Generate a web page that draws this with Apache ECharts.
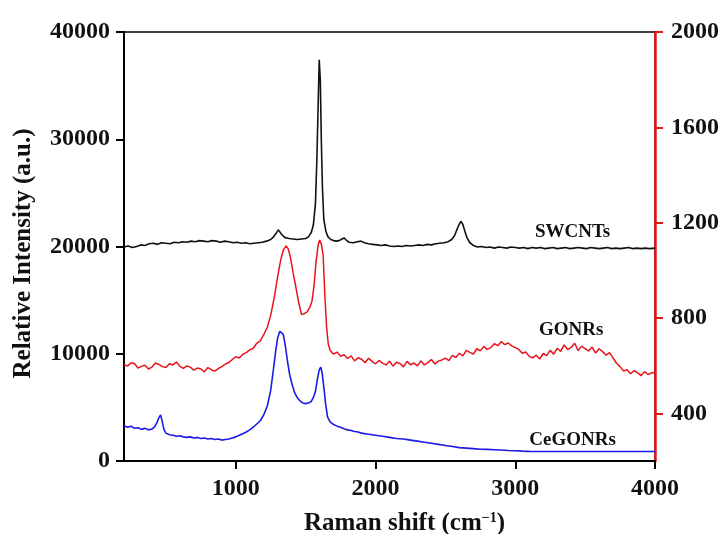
<!DOCTYPE html>
<html>
<head>
<meta charset="utf-8">
<script src="https://cdn.jsdelivr.net/npm/echarts@6/dist/echarts.min.js"></script>
<style>
  html, body { margin: 0; padding: 0; background: #fff; }
  #chart { width: 721px; height: 534px; }
</style>
</head>
<body>
<div id="chart"></div>
<script>
    // SWCNTs (left axis)
    var swX = [200,230,260,290,320,350,380,410,440,470,500,530,560,590,620,650,680,710,740,770,800,830,860,890,920,950,980,1010,1040,1070,1100,1130,1160,1190,1220,1250,1270,1290,1305,1315,1330,1350,1380,1410,1440,1470,1500,1520,1540,1555,1570,1580,1590,1597,1605,1612,1620,1630,1645,1660,1680,1700,1720,1740,1760,1775,1790,1810,1840,1870,1895,1920,1950,1980,2010,2040,2070,2100,2130,2160,2190,2220,2250,2280,2310,2340,2370,2400,2430,2460,2490,2520,2545,2565,2585,2600,2612,2625,2640,2655,2675,2700,2730,2760,2790,2820,2850,2880,2910,2940,2970,3000,3030,3060,3090,3120,3150,3180,3210,3240,3270,3300,3330,3360,3390,3420,3450,3480,3510,3540,3570,3600,3630,3660,3690,3720,3750,3780,3810,3840,3870,3900,3930,3960,4000];
    var swY = [19950,20050,19900,20000,20150,20100,20250,20300,20200,20350,20300,20250,20400,20350,20450,20400,20500,20450,20550,20500,20450,20550,20500,20400,20500,20450,20350,20400,20300,20350,20250,20300,20350,20400,20500,20650,20900,21250,21550,21500,21100,20850,20750,20700,20650,20700,20750,20900,21300,22000,24000,28000,33500,37400,35500,30000,25500,22500,21400,20900,20650,20550,20500,20550,20700,20800,20600,20400,20350,20450,20500,20350,20250,20200,20150,20100,20150,20050,20000,20050,20000,20100,20050,20100,20150,20100,20200,20150,20250,20300,20350,20450,20650,21000,21650,22100,22350,22050,21400,20800,20350,20100,19950,20000,19900,19950,19850,19950,19900,19850,19950,19900,19850,19900,19800,19900,19850,19900,19800,19850,19900,19800,19850,19900,19800,19850,19900,19850,19800,19900,19850,19800,19850,19900,19800,19850,19800,19850,19900,19800,19850,19800,19850,19800,19850];

    // GONRs (right axis)
    var goX = [200,225,250,275,300,325,350,375,400,425,450,475,500,525,550,575,600,625,650,675,700,725,750,775,800,825,850,875,900,925,950,975,1000,1025,1050,1075,1100,1125,1150,1175,1200,1225,1250,1275,1300,1320,1340,1360,1375,1390,1410,1430,1450,1470,1490,1510,1530,1545,1560,1575,1590,1600,1612,1625,1637,1650,1662,1675,1700,1725,1750,1775,1800,1825,1850,1875,1900,1925,1950,1975,2000,2025,2050,2075,2100,2125,2150,2175,2200,2225,2250,2275,2300,2325,2350,2375,2400,2425,2450,2475,2500,2525,2550,2575,2600,2625,2650,2675,2700,2725,2750,2775,2800,2825,2850,2875,2900,2925,2950,2975,3000,3025,3050,3075,3100,3125,3150,3175,3200,3225,3250,3275,3300,3325,3350,3375,3400,3425,3450,3475,3500,3525,3550,3575,3600,3625,3650,3675,3700,3725,3750,3775,3800,3825,3850,3875,3900,3925,3950,3975,4000];
    var goY = [605,598,612,609,590,597,602,586,594,611,605,596,592,608,603,615,597,589,599,594,581,590,586,574,592,583,577,588,596,607,613,626,638,
               632,648,655,666,673,694,704,730,760,812,885,975,
               1040,1085,1102,1090,1058,990,930,865,815,818,826,845,870,935,1040,1108,1127,1110,1065,900,760,690,665,
               648,657,639,646,630,641,620,633,627,612,631,618,608,
               622,611,603,619,598,614,609,595,618,604,611,599,620,603,613,626,607,619,624,632,
               621,643,634,652,641,664,656,649,671,662,681,668,676,692,684,701,688,695,683,676,
               668,652,657,639,633,644,628,651,642,665,648,673,660,687,668,676,694,663,682,671,
               662,678,653,671,659,644,655,632,610,596,578,583,566,579,571,558,575,563,569,572];

    // CeGONRs (left axis)
    var ceX = [200,225,250,275,300,325,350,375,400,420,435,450,462,475,487,500,525,550,575,600,625,650,675,700,725,750,775,800,825,850,875,900,925,950,975,1000,1025,1050,1075,1100,1125,1150,1175,1200,1225,1250,1270,1285,1300,1315,1328,1340,1355,1370,1385,1400,1420,1440,1460,1480,1500,1520,1540,1555,1570,1585,1597,1608,1618,1630,1643,1657,1675,1700,1725,1750,1775,1800,1825,1850,1875,1900,1950,2000,2050,2100,2150,2200,2250,2300,2350,2400,2450,2500,2550,2600,2650,2700,2750,2800,2850,2900,2950,3000,3050,3100,3200,4000];
    var ceY = [3300,3150,3250,3050,3100,2950,3050,2900,2980,3200,3550,4050,4300,3600,2900,2600,2450,2400,2300,2350,2250,2200,2250,2150,2200,2100,2150,2050,2100,2000,2050,1950,2000,2050,2150,2250,2400,2550,2700,2900,3150,3450,3750,4300,5100,6600,8600,10200,11500,12100,12200,11800,10700,9300,8100,7300,6400,5900,5600,5400,5350,5400,5550,5900,6500,7700,8500,8750,8200,6900,5300,4100,3650,3400,3250,3150,3000,2900,2850,2750,2700,2600,2500,2400,2300,2200,2100,2050,1950,1850,1750,1650,1550,1450,1350,1250,1200,1150,1100,1080,1050,1020,980,950,920,900,880,880];

    var labelFont = 'Liberation Serif, Times New Roman, serif';

    function pairs(xs, ys) {
        var out = [];
        for (var i = 0; i < xs.length; i++) out.push([xs[i], ys[i]]);
        return out;
    }

    function plain(v) { return String(v); }

    function tag(text, coord) {
        return {
            coord: coord,
            symbol: 'circle',
            symbolSize: 1,
            itemStyle: { color: 'rgba(0,0,0,0)' },
            label: {
                show: true, position: 'inside', formatter: text,
                color: '#111', fontFamily: labelFont, fontWeight: 'bold', fontSize: 19
            }
        };
    }

    var myChart = echarts.init(document.getElementById('chart'));

    var option = {
        animation: false,
        backgroundColor: '#fff',
        grid: {
            left: 124, right: 66, top: 32, bottom: 73,
            outerBoundsMode: 'none',
            show: true, borderColor: '#000', borderWidth: 1.5
        },
        xAxis: {
            type: 'value',
            min: 200, max: 4000,
            axisLabel: {
                customValues: [1000, 2000, 3000, 4000], formatter: plain,
                color: '#111', fontFamily: labelFont, fontWeight: 'bold', fontSize: 24, margin: 16
            },
            axisTick: { customValues: [1000, 2000, 3000, 4000], length: 8, lineStyle: { color: '#000', width: 2 } },
            axisLine: { lineStyle: { color: '#000', width: 2 } },
            splitLine: { show: false },
            name: 'Raman shift (cm{sup|\u22121})',
            nameLocation: 'middle',
            nameGap: 50,
            nameTextStyle: {
                color: '#111', fontFamily: labelFont, fontWeight: 'bold', fontSize: 25,
                padding: [0, 0, 0, 30],
                rich: {
                    sup: { fontFamily: labelFont, fontWeight: 'bold', fontSize: 14, color: '#111', verticalAlign: 'top', padding: [0, 0, 12, 0] }
                }
            }
        },
        yAxis: [{
            type: 'value',
            min: 0, max: 40000, interval: 10000,
            position: 'left',
            axisLabel: { formatter: plain, color: '#111', fontFamily: labelFont, fontWeight: 'bold', fontSize: 24, margin: 14 },
            axisTick: { show: true, length: 8, lineStyle: { color: '#000', width: 2 } },
            axisLine: { show: true, lineStyle: { color: '#000', width: 2 } },
            splitLine: { show: false },
            name: 'Relative Intensity (a.u.)',
            nameLocation: 'middle',
            nameGap: 88,
            nameTextStyle: { color: '#111', fontFamily: labelFont, fontWeight: 'bold', fontSize: 25, padding: [0, 14, 0, 0] }
        }, {
            type: 'value',
            min: 200, max: 2000,
            position: 'right',
            axisLabel: {
                customValues: [400, 800, 1200, 1600, 2000], formatter: plain,
                color: '#111', fontFamily: labelFont, fontWeight: 'bold', fontSize: 24, margin: 16
            },
            axisTick: { show: true, customValues: [400, 800, 1200, 1600, 2000], length: 8, lineStyle: { color: '#e8141c', width: 2 } },
            axisLine: { show: true, lineStyle: { color: '#e8141c', width: 2.5 } },
            splitLine: { show: false }
        }],
        series: [{
            name: 'SWCNTs',
            type: 'line',
            yAxisIndex: 0,
            showSymbol: false,
            data: pairs(swX, swY),
            lineStyle: { color: '#111', width: 1.6 },
            markPoint: { silent: true, data: [tag('SWCNTs', [3410, 21350])] }
        }, {
            name: 'GONRs',
            type: 'line',
            yAxisIndex: 1,
            showSymbol: false,
            data: pairs(goX, goY),
            lineStyle: { color: '#e8141c', width: 1.5 },
            markPoint: { silent: true, data: [tag('GONRs', [3400, 750])] }
        }, {
            name: 'CeGONRs',
            type: 'line',
            yAxisIndex: 0,
            showSymbol: false,
            data: pairs(ceX, ceY),
            lineStyle: { color: '#1a1ae6', width: 1.6 },
            markPoint: { silent: true, data: [tag('CeGONRs', [3410, 1960])] }
        }]
    };

    myChart.setOption(option);
</script>
</body>
</html>
